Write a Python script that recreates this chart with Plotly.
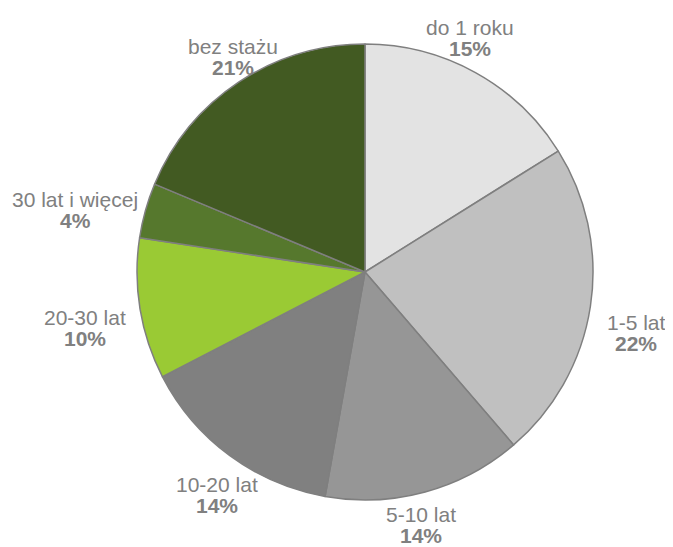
import plotly.graph_objects as go

categories = ["do 1 roku", "1-5 lat", "5-10 lat", "10-20 lat", "20-30 lat", "30 lat i więcej", "bez stażu"]
# slice shares as drawn in the picture
values = [16.1, 22.6, 14.1, 14.6, 10.0, 3.9, 18.7]
# percentages printed on the labels
pct_labels = ["15%", "22%", "14%", "14%", "10%", "4%", "21%"]
colors = ["#E3E3E3", "#C0C0C0", "#969696", "#808080", "#9ACA34", "#56782D", "#425A22"]

# label placement (page-pixel centre of the category name), layout only
label_px = [(470, 28), (636, 322), (421, 514), (217, 484), (85, 317), (75, 199), (233, 47)]

PAGE_OFFSET = 8  # default body margin of the html page
W, H = 665, 539
M = dict(l=129, r=80, t=36, b=47)

fig = go.Figure(go.Pie(
    labels=categories,
    values=values,
    textinfo="none",
    sort=False,
    direction="clockwise",
    rotation=0,
    marker=dict(colors=colors, line=dict(color="#7F7F7F", width=1.5)),
    showlegend=False,
    hoverinfo="label+percent",
))

pw = W - M["l"] - M["r"]
ph = H - M["t"] - M["b"]


def to_paper(px, py):
    fx = px - PAGE_OFFSET
    fy = py - PAGE_OFFSET
    return (fx - M["l"]) / pw, 1 - (fy - M["t"]) / ph


font = dict(family="Liberation Sans, Arial", size=21, color="#808080")
annotations = []
for name, pct, (px, py) in zip(categories, pct_labels, label_px):
    x, y = to_paper(px, py)
    annotations.append(dict(x=x, y=y, xref="paper", yref="paper", text=name,
                            showarrow=False, xanchor="center", yanchor="middle", font=font))
    x2, y2 = to_paper(px, py + 21)
    annotations.append(dict(x=x2, y=y2, xref="paper", yref="paper", text="<b>" + pct + "</b>",
                            showarrow=False, xanchor="center", yanchor="middle", font=font))

fig.update_layout(
    width=W, height=H,
    margin=M,
    paper_bgcolor="white",
    plot_bgcolor="white",
    annotations=annotations,
)

fig.write_html("out.html")
